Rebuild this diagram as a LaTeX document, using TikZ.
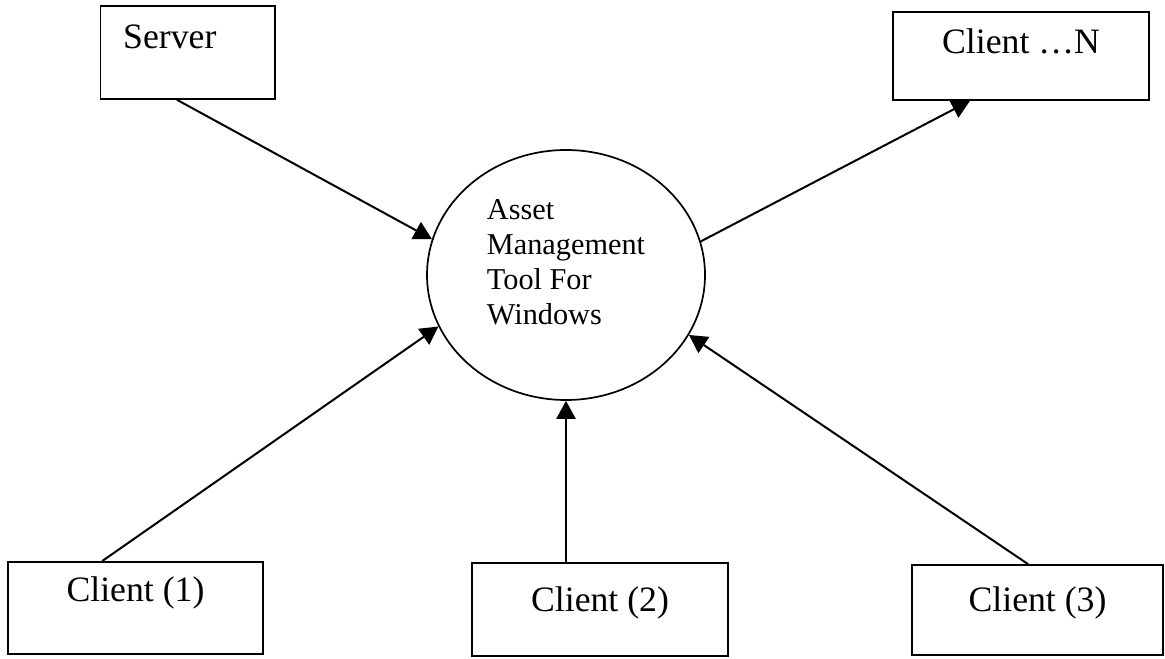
\documentclass[tikz,border=0pt]{standalone}
\usepackage{fontspec}
\setmainfont{Liberation Serif}
\usetikzlibrary{positioning, shapes.geometric, arrows.meta}

\begin{document}
\begin{tikzpicture}[x=0.35pt, y=-0.35pt,
    box/.style={draw, line width=0.6pt, inner sep=0pt, font=\fontsize{12.5}{15}\selectfont,
        text height=8.5pt, text depth=10pt},
    conn/.style={line width=0.7pt, -{Triangle[length=6.3pt, width=6.7pt]}}]
    \useasboundingbox (0,0) rectangle (1165,659);

    % the tool in the middle, text sits a little above centre
    \node[draw, ellipse, line width=0.6pt, inner sep=0pt, minimum width=97.3pt, minimum height=87.5pt,
        font=\fontsize{10.6}{12.25}\selectfont] (tool) at (566,275)
        {\raisebox{0pt}[\height][\dimexpr\depth+7pt\relax]{%
            \begin{tabular}{@{}l@{}}Asset\\Management\\Tool For\\Windows\end{tabular}}};

    \node[box, minimum height=32.5pt, text width=45pt, align=left, inner xsep=8pt, text depth=11pt] (server) at (187.5,52.5) {Server};
    \node[box, minimum width=89.6pt, minimum height=30.8pt] (clientn) at (1021,56) {Client …N};
    \node[box, minimum width=89.3pt, minimum height=32.2pt, text depth=13.4pt] (client1) at (135.5,608) {Client (1)};
    \node[box, minimum width=89.6pt, minimum height=32.5pt, text depth=7.2pt] (client2) at (600,609.5) {Client (2)};
    \node[box, minimum width=87.9pt, minimum height=31.5pt, text depth=7.8pt] (client3) at (1037.5,610) {Client (3)};

    \draw[conn] ([xshift=-3.7pt]server.south) -- (tool.165);
    \draw[conn] (tool.14) -- ([xshift=-17.9pt]clientn.south);
    \draw[conn] ([xshift=-11.7pt]client1.north) -- (tool.202);
    \draw[conn] (tool.south |- client2.north) -- (tool.south);
    \draw[conn] ([xshift=-3.3pt]client3.north) -- (tool.334);
\end{tikzpicture}
\end{document}
